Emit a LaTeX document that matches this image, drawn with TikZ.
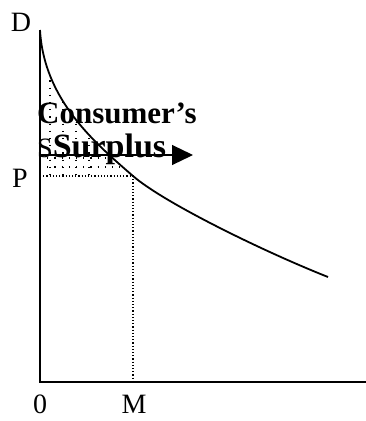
\documentclass[tikz,border=0pt]{standalone}
\usepackage{fontspec}
\setmainfont{Liberation Serif}
\usetikzlibrary{positioning, calc, arrows.meta}

\begin{document}
\begin{tikzpicture}[
    x=1pt, y=-1pt,
    axis/.style   = {line width=2.4pt, draw=black},
    demand/.style = {line width=1.8pt, draw=black},
    guide/.style  = {line width=1.2pt, draw=black, dotted},
    shade/.style  = {line width=1.2pt, draw=black,
                     dash pattern=on 1.2pt off 6pt},
    lbl/.style    = {font=\fontsize{28}{30}\selectfont, inner sep=0pt},
    title/.style  = {font=\fontsize{31}{33}\selectfont\bfseries, inner sep=0pt,
                     anchor=base west},
    arr/.style    = {line width=1.2pt, draw=black,
                     -{Triangle[length=21pt, width=20pt]}},
]

%% ---- Layout coordinates ----
\def\xAxis{40}
\def\yTop{30}
\def\yAxis{382}
\def\xM{133}
\def\yP{176}

\useasboundingbox (0,0) rectangle (366,421);

%% ==================================================================
%% COORDINATES
%% ==================================================================
\coordinate (origin) at (\xAxis, \yAxis);
\coordinate (ytop)   at (\xAxis, \yTop);
\coordinate (xend)   at (366, \yAxis);
\coordinate (eq)     at (\xM, \yP);
\coordinate (pfoot)  at (\xAxis, \yP);
\coordinate (mfoot)  at (\xM, \yAxis);
\coordinate (dend)   at (328, 277);

%% ==================================================================
%% SURPLUS SHADING
%% ==================================================================
\begin{scope}
    \clip (ytop) .. controls (44,100) and (95,143) .. (eq)
        -- (pfoot) -- cycle;
    \foreach \xx in {50, 63, 76, 89}
        \draw[shade] (\xx, \yTop) -- (\xx, \yP);
    \foreach \yy in {158, 167}
        \draw[shade] (\xAxis, \yy) -- (\xM, \yy);
\end{scope}

%% ==================================================================
%% AXES AND CURVE
%% ==================================================================
\draw[axis] (ytop) -- (origin) -- (xend);
\draw[demand] (ytop) .. controls (44,100) and (95,143) .. (eq)
    .. controls (163,202) and (260,250) .. (dend);

\draw[guide] (pfoot) -- (eq);
\draw[guide] (eq) -- (mfoot);

%% ==================================================================
%% LABELS
%% ==================================================================
\node[lbl] (dlbl) at (21, 22) {D};
\node[lbl] (plbl) at (20, 178) {P};
\node[lbl] (zlbl) at (40, 404) {0};
\node[lbl] (mlbl) at (134, 404) {M};

\node[title] (cons) at (37, 123) {Consumer’s};
\node[title, font=\fontsize{28}{30}\selectfont] (surp) at (37, 157)
    {S\fontsize{34}{36}\selectfont\bfseries Surplus};

%% Arrow through the label
\coordinate (tip) at (193, 155);
\draw[arr] (\xAxis, 155) -- (tip);

\end{tikzpicture}
\end{document}
